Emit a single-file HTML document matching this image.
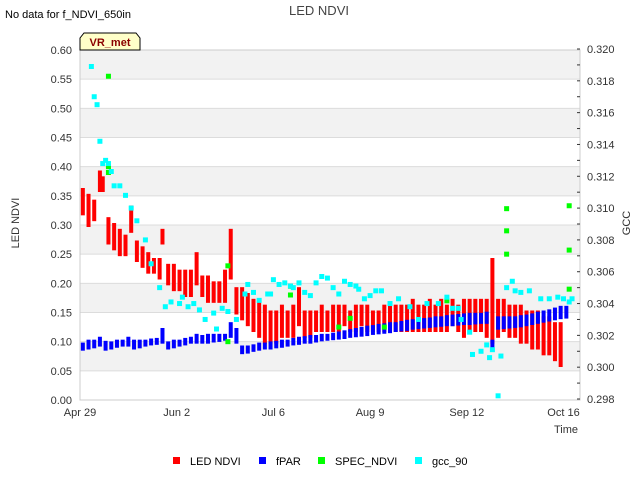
<!DOCTYPE html>
<html><head><meta charset="utf-8"><style>
body{margin:0;background:#fff;width:640px;height:480px;overflow:hidden;font-family:"Liberation Sans",sans-serif}
svg text{font-family:"Liberation Sans","DejaVu Sans",sans-serif}
</style></head><body>
<svg id="chart" width="640" height="480">
<text x="5" y="18" font-size="11" fill="#000">No data for f_NDVI_650in</text>
<text x="319" y="15" font-size="13" fill="#444" text-anchor="middle">LED NDVI</text>
<g id="plot"></g>
<g>
<path d="M80,50 L80,38 L84,33 L136,33 L140,38 L140,50 Z" fill="#ffffc8" stroke="#000" stroke-width="1"/>
<text x="110" y="46" font-size="11" font-weight="bold" fill="#8b0000" text-anchor="middle">VR_met</text>
</g>
<text x="19" y="223" font-size="11" fill="#333" text-anchor="middle" transform="rotate(-90 19 223)">LED NDVI</text>
<text x="630" y="223" font-size="11" fill="#333" text-anchor="middle" transform="rotate(-90 630 223)">GCC</text>
<text x="578" y="433" font-size="11" fill="#333" text-anchor="end">Time</text>
<g id="legend"></g>
</svg>
<script>
const xTickLabels=["Apr 29","Jun 2","Jul 6","Aug 9","Sep 12","Oct 16"];
const xTickDays=[0,34,68,102,136,170];
const yTicks=[0,0.05,0.1,0.15,0.2,0.25,0.3,0.35,0.4,0.45,0.5,0.55,0.6];
const y2Ticks=[0.298,0.300,0.302,0.304,0.306,0.308,0.310,0.312,0.314,0.316,0.318,0.320];
// LED NDVI ranges: [day, low, high]
const ledNdvi=[[1,0.32,0.36],[3,0.30,0.35],[5,0.31,0.34],[7,0.36,0.39],[8,0.36,0.38],[10,0.27,0.31],[12,0.26,0.30],[14,0.25,0.29],[16,0.25,0.28],[18,0.29,0.33],[20,0.24,0.27],[22,0.23,0.26],[24,0.22,0.25],[26,0.22,0.24],[28,0.21,0.24],[29,0.27,0.29],[31,0.20,0.23],[33,0.19,0.23],[35,0.19,0.22],[37,0.18,0.22],[39,0.18,0.22],[41,0.20,0.25],[43,0.18,0.21],[45,0.17,0.21],[47,0.17,0.20],[49,0.17,0.20],[51,0.17,0.22],[53,0.21,0.29],[55,0.15,0.19],[57,0.14,0.19],[59,0.13,0.18],[61,0.12,0.17],[63,0.11,0.17],[65,0.10,0.16],[67,0.10,0.15],[69,0.10,0.15],[71,0.11,0.16],[73,0.11,0.15],[75,0.11,0.16],[77,0.13,0.19],[79,0.11,0.15],[81,0.11,0.15],[83,0.12,0.15],[85,0.12,0.16],[87,0.12,0.15],[89,0.12,0.16],[91,0.12,0.16],[93,0.13,0.16],[95,0.12,0.15],[97,0.12,0.16],[99,0.13,0.16],[101,0.12,0.16],[103,0.12,0.15],[105,0.12,0.15],[107,0.12,0.16],[109,0.12,0.16],[111,0.12,0.16],[113,0.12,0.16],[115,0.12,0.16],[117,0.12,0.17],[119,0.12,0.16],[121,0.12,0.16],[123,0.12,0.17],[125,0.12,0.16],[127,0.12,0.17],[129,0.12,0.16],[131,0.13,0.17],[133,0.12,0.16],[135,0.11,0.17],[137,0.12,0.17],[139,0.12,0.17],[141,0.12,0.17],[143,0.11,0.17],[145,0.10,0.24],[147,0.11,0.17],[149,0.12,0.17],[151,0.11,0.16],[153,0.11,0.16],[155,0.10,0.16],[157,0.10,0.15],[159,0.09,0.15],[161,0.09,0.15],[163,0.08,0.14],[165,0.08,0.14],[167,0.07,0.13],[169,0.06,0.13]];
// fPAR ranges: [day, low, high]
const fpar=[[1,0.088,0.095],[3,0.09,0.10],[5,0.092,0.10],[7,0.095,0.105],[9,0.088,0.098],[11,0.09,0.097],[13,0.093,0.10],[15,0.095,0.10],[17,0.095,0.105],[19,0.09,0.10],[21,0.092,0.10],[23,0.095,0.10],[25,0.097,0.102],[27,0.098,0.103],[29,0.10,0.12],[31,0.09,0.097],[33,0.092,0.10],[35,0.095,0.10],[37,0.097,0.103],[39,0.10,0.105],[41,0.10,0.11],[43,0.10,0.108],[45,0.10,0.11],[47,0.102,0.11],[49,0.103,0.11],[51,0.105,0.11],[53,0.11,0.13],[55,0.10,0.12],[57,0.082,0.09],[59,0.083,0.09],[61,0.086,0.092],[63,0.088,0.095],[65,0.09,0.095],[67,0.09,0.097],[69,0.092,0.098],[71,0.093,0.10],[73,0.095,0.10],[75,0.097,0.103],[77,0.098,0.105],[79,0.10,0.106],[81,0.10,0.108],[83,0.102,0.108],[85,0.104,0.11],[87,0.105,0.11],[89,0.106,0.112],[91,0.107,0.114],[93,0.108,0.116],[95,0.11,0.118],[97,0.111,0.12],[99,0.112,0.122],[101,0.113,0.124],[103,0.115,0.125],[105,0.116,0.127],[107,0.117,0.128],[109,0.118,0.13],[111,0.12,0.13],[113,0.121,0.132],[115,0.122,0.134],[117,0.124,0.135],[119,0.125,0.136],[121,0.126,0.137],[123,0.127,0.138],[125,0.128,0.14],[127,0.129,0.14],[129,0.13,0.142],[131,0.13,0.143],[133,0.131,0.144],[135,0.132,0.145],[137,0.132,0.146],[139,0.133,0.146],[141,0.134,0.146],[143,0.134,0.148],[145,0.09,0.10],[147,0.124,0.14],[149,0.125,0.14],[151,0.126,0.14],[153,0.127,0.14],[155,0.128,0.142],[157,0.13,0.143],[159,0.132,0.145],[161,0.134,0.148],[163,0.136,0.15],[165,0.138,0.152],[167,0.14,0.155],[169,0.142,0.158],[171,0.143,0.158]];
// SPEC_NDVI points
const specDays=[10,10,10,52,52,74,74,91,95,107,129,150,150,150,172,172,172];
const specVals=[0.555,0.40,0.39,0.23,0.10,0.195,0.18,0.125,0.14,0.125,0.17,0.328,0.29,0.25,0.333,0.257,0.19];
// gcc_90 points (right axis)
const gccDays=[4,5,6,7,8,9,10,11,12,14,16,18,20,23,25,28,30,32,35,36,38,40,42,44,47,48,50,52,55,58,59,61,63,66,67,68,70,72,74,75,77,79,81,83,85,87,89,91,93,95,97,98,100,102,104,106,109,112,116,119,122,126,129,131,133,134,137,138,141,143,144,145,147,148,150,152,153,155,158,162,165,168,170,172,173];
const gccVals=[0.3189,0.3170,0.3165,0.3142,0.3128,0.3130,0.3128,0.3123,0.3114,0.3114,0.3108,0.3100,0.3092,0.3080,0.3065,0.3050,0.3038,0.3041,0.3040,0.3044,0.3038,0.3040,0.3036,0.3030,0.3034,0.3024,0.3037,0.3035,0.3030,0.3046,0.3052,0.3047,0.3042,0.3046,0.3046,0.3055,0.3052,0.3053,0.3051,0.3050,0.3053,0.3047,0.3045,0.3053,0.3057,0.3056,0.3050,0.3046,0.3054,0.3052,0.3051,0.3049,0.3043,0.3045,0.3048,0.3048,0.3040,0.3043,0.3038,0.3030,0.3040,0.3040,0.3044,0.3037,0.3037,0.3030,0.3022,0.3008,0.3010,0.3014,0.3006,0.3011,0.2982,0.3007,0.3050,0.3054,0.3048,0.3047,0.3048,0.3043,0.3043,0.3044,0.3043,0.3041,0.3043];

const svg=document.getElementById('chart'),plot=document.getElementById('plot');
const X0=80,X1=580,Y0=400,Y1=50,ppd=96.7/34;
const xs=d=>X0+d*ppd;
const ys=v=>Y0-(v/0.6)*(Y0-Y1);
const ys2=v=>399-(v-0.298)/0.022*350;
const NS='http://www.w3.org/2000/svg';
function mk(t,a,p){const e=document.createElementNS(NS,t);for(const k in a)e.setAttribute(k,a[k]);(p||plot).appendChild(e);return e;}
for(let i=0;i<12;i++){const top=0.6-i*0.05;
 const r=mk('rect',{x:X0,y:ys(top),width:X1-X0,height:ys(top-0.05)-ys(top),fill:i%2===0?'#f2f2f2':'#ffffff'});
 
 
 mk('line',{x1:X0,x2:X1,y1:ys(top),y2:ys(top),stroke:'#dcdcdc','stroke-width':1});}
mk('rect',{x:X0,y:Y1,width:X1-X0,height:Y0-Y1,fill:'none',stroke:'#ccc'});
yTicks.forEach(v=>{const t=mk('text',{x:X0-8,y:ys(v)+4,'font-size':11,fill:'#333','text-anchor':'end'});t.textContent=v.toFixed(2);
 
 });
y2Ticks.forEach((v,i)=>{const t=mk('text',{x:X1+7,y:ys2(v)+4,'font-size':11,fill:'#333'});t.textContent=v.toFixed(3);
 
 
 mk('line',{x1:X1-3,x2:X1,y1:ys2(v),y2:ys2(v),stroke:'#333'});
 if(i<y2Ticks.length-1){const m=ys2(v+0.001);mk('line',{x1:X1-3,x2:X1,y1:m,y2:m,stroke:'#333'});}});
xTickLabels.forEach((l,i)=>{const t=mk('text',{x:xs(xTickDays[i]),y:416,'font-size':11,fill:'#333','text-anchor':'middle'});t.textContent=l;
 
 });
ledNdvi.forEach(([d,lo,hi])=>{const r=mk('rect',{x:xs(d)-2,y:ys(hi)-2,width:4,height:ys(lo)-ys(hi)+4,fill:'#f00'});
 
 });
fpar.forEach(([d,lo,hi])=>{const r=mk('rect',{x:xs(d)-2,y:ys(hi)-2,width:4,height:ys(lo)-ys(hi)+4,fill:'#00f'});
 
 });
specDays.forEach((d,i)=>{const r=mk('rect',{x:xs(d)-2.5,y:ys(specVals[i])-2.5,width:5,height:5,fill:'#0f0'});
 
 });
gccDays.forEach((d,i)=>{const r=mk('rect',{x:xs(d)-2.5,y:ys2(gccVals[i])-2.5,width:5,height:5,fill:'#0ff'});
 
 });
const leg=document.getElementById('legend');
[["LED NDVI","#f00",173],["fPAR","#00f",259],["SPEC_NDVI","#0f0",318],["gcc_90","#0ff",415]].forEach(([n,c,x])=>{
 const g=mk('g',{},leg);
 
 
 mk('rect',{x:x,y:457,width:7,height:7,fill:c},g);
 const t=mk('text',{x:x+17,y:465,'font-size':11,fill:'#000'},g);t.textContent=n;});
</script>
</body></html>
